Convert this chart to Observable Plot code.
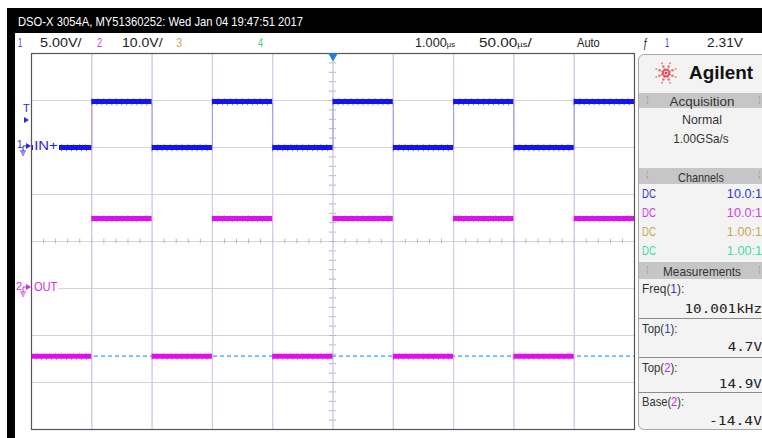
<!DOCTYPE html>
<html><head><meta charset="utf-8">
<script src="https://cdn.jsdelivr.net/npm/d3@7"></script>
<script src="https://cdn.jsdelivr.net/npm/@observablehq/plot@0.6"></script>
<style>
body{margin:0;background:#fff;}
#root{position:relative;width:762px;height:438px;overflow:hidden;background:#fff;font-family:"Liberation Sans",Arial,sans-serif;}
.t{position:absolute;white-space:nowrap;line-height:1;}
#plot{position:absolute;left:0;top:0;}
.bar{position:absolute;left:0;width:130px;background:#c6c6c6;}
</style></head>
<body>
<div id="root"><div id="plot"></div></div>
<script>
const timeEdges = [-250, -200, -150, -100, -50, 0, 50, 100, 150, 200, 250]; // µs, 50 µs/div
const inVolts   = [0, 4.9, 0, 4.9, 0, 4.9, 0, 4.9, 0, 4.9];                 // channel 1 (IN+)
const outVolts  = [-14.4, 14.9, -14.4, 14.9, -14.4, 14.9, -14.4, 14.9, -14.4, 14.9]; // channel 2 (OUT)
const ch1Offset = 2, ch1VoltsPerDiv = 5;
const ch2Offset = -1, ch2VoltsPerDiv = 10;
const base2 = -14.4;
const xGrid = [-200, -150, -100, -50, 0, 50, 100, 150, 200];
const yGrid = [-3, -2, -1, 0, 1, 2, 3];
const titleText = "DSO-X 3054A, MY51360252: Wed Jan 04 19:47:51 2017";
const headerItems = [
  ["1", 18, "#3a3ac8", 4], ["5.00V/", 40, "#222", 42], ["2", 97, "#d040d8", 5], ["10.0V/", 122, "#222", 41],
  ["3", 176, "#c8a860", 6], ["4", 258, "#40d080", 5], ["1.000<span style='font-size:8px'>µs</span>", 415, "#222", 40],
  ["50.00<span style='font-size:8px'>µs</span>/", 479, "#222", 53], ["Auto", 577, "#222", 23], ["ƒ", 643, "#222", 5],
  ["1", 665, "#3a3ac8", 4], ["2.31V", 707, "#222", 36]
];
const channelRows = [["DC", "10.0:1", "#3434d0"], ["DC", "10.0:1", "#d040e0"], ["DC", "1.00:1", "#c8a850"], ["DC", "1.00:1", "#40dca0"]];
const measurements = [["Freq", "1", "10.001kHz", "#3434d0"], ["Top", "1", "4.7V", "#3434d0"], ["Top", "2", "14.9V", "#c030e0"], ["Base", "2", "-14.4V", "#c030e0"]];

const segIn = inVolts.map((v, i) => ({x1: timeEdges[i], x2: timeEdges[i + 1], y: ch1Offset + v / ch1VoltsPerDiv}));
const segOut = outVolts.map((v, i) => ({x1: timeEdges[i], x2: timeEdges[i + 1], y: ch2Offset + v / ch2VoltsPerDiv}));
const edgesIn = timeEdges.slice(1, -1).map((t, i) => ({x: t, y1: segIn[i].y, y2: segIn[i + 1].y}));
const minorX = d3.range(-250, 251, 10);
const minorY = d3.range(-4, 4.01, 0.2);

const blue = "#1414f2", mag = "#dc10ee";
const plot = Plot.plot({
  width: 762, height: 438,
  marginLeft: 31, marginRight: 128, marginTop: 53, marginBottom: 9,
  x: {domain: [-250, 250], axis: null},
  y: {domain: [-4, 4], axis: null},
  marks: [
    Plot.ruleX(xGrid, {stroke: "#d4d4d4", strokeWidth: 1}),
    Plot.ruleY(yGrid, {stroke: "#d4d4d4", strokeWidth: 1}),
    Plot.ruleX(minorX, {y1: -0.05, y2: 0.05, stroke: "#b8b8b8"}),
    Plot.ruleY(minorY, {x1: -3, x2: 3, stroke: "#b8b8b8"}),
    Plot.ruleX(timeEdges.slice(1, -1), {stroke: "#dcc4ec", strokeWidth: 1}),
    Plot.ruleX(edgesIn, {x: "x", y1: d => d.y1 - 0.05, y2: d => d.y2 + 0.05, stroke: "#9c9cf0", strokeWidth: 1}),
    Plot.ruleY([ch2Offset + base2 / ch2VoltsPerDiv], {stroke: "#3aa0f0", strokeWidth: 1.2, strokeDasharray: "4,3"}),
    Plot.ruleY(segIn, {x1: "x1", x2: "x2", y: "y", stroke: blue, strokeWidth: 5}),
    Plot.ruleY(segIn, {x1: "x1", x2: "x2", y: "y", dy: 3, stroke: blue, strokeWidth: 1.5, strokeDasharray: "1,4", strokeOpacity: 0.6}),
    Plot.ruleY(segIn, {x1: "x1", x2: "x2", y: "y", dy: -3, stroke: "#6060f0", strokeWidth: 1, strokeDasharray: "1,5", strokeOpacity: 0.6}),
    Plot.ruleY(segOut, {x1: "x1", x2: "x2", y: "y", stroke: mag, strokeWidth: 5}),
    Plot.ruleY(segOut, {x1: "x1", x2: "x2", y: "y", dy: 3, stroke: mag, strokeWidth: 1.5, strokeDasharray: "1,4", strokeOpacity: 0.6}),
    Plot.ruleY(segOut, {x1: "x1", x2: "x2", y: "y", dy: -3, stroke: "#e060f0", strokeWidth: 1, strokeDasharray: "1,5", strokeOpacity: 0.6}),
    Plot.frame({stroke: "#555", strokeWidth: 1.2}),
    Plot.dot([0], {x: d => d, y: 4, symbol: "triangle", rotate: 180, r: 3.6, dy: 2.5, fill: "#2080e0", stroke: "none"})
  ]
});
const root = document.getElementById("root");
document.getElementById("plot").appendChild(plot);

function box(x, y, w, h, bg, extra = "") {
  const d = document.createElement("div");
  d.style.cssText = `position:absolute;left:${x}px;top:${y}px;width:${w}px;height:${h}px;background:${bg};${extra}`;
  root.appendChild(d); return d;
}
const fits = [];
function put(html, x, y, o = {}) {
  const {size = 12, color = "#222", anchor = "start", w = null, family = null, weight = "normal", bg = null, parent = root} = o;
  const d = document.createElement("div");
  d.className = "t";
  d.innerHTML = html;
  d.style.left = x + "px"; d.style.top = y + "px";
  d.style.fontSize = size + "px"; d.style.color = color; d.style.fontWeight = weight;
  if (family) d.style.fontFamily = family;
  if (bg) { d.style.background = bg; d.style.padding = "1px 1px"; }
  parent.appendChild(d);
  fits.push({d, anchor, w});
  return d;
}
function fitAll() {
  for (const {d, anchor, w} of fits) {
    const tx = anchor === "end" ? "-100%" : anchor === "middle" ? "-50%" : "0";
    const s = w ? w / d.offsetWidth : 1;
    d.style.transformOrigin = anchor === "end" ? "right center" : anchor === "middle" ? "center center" : "left center";
    d.style.transform = `translate(${tx},-50%) scaleX(${s})`;
  }
}

// black frame pieces
box(7, 8, 755, 25, "#000");
box(7, 8, 8, 430, "#000");
put(titleText, 18, 21, {size: 13, color: "#fff", w: 285});
for (const [txt, x, c, w] of headerItems) put(txt, x, 42, {size: 13, color: c, w});

// left markers
put("IN+", 33, 146, {size: 12, color: "#2222e0", bg: "#fff", w: 26});
put("OUT", 33, 287, {size: 12, color: "#d030e0", bg: "#fff", w: 25});
put("T", 23, 108, {size: 11, color: "#2a2ae0"});
put("1", 17, 145, {size: 10, color: "#2a2ae0"});
put("2", 16, 286, {size: 11, color: "#d030e0"});
const ns = "http://www.w3.org/2000/svg";
const mk = document.createElementNS(ns, "svg");
mk.setAttribute("width", 31); mk.setAttribute("height", 438);
mk.style.cssText = "position:absolute;left:0;top:0;";
mk.innerHTML = `
<path d="M24,117 L29,120 L24,123 Z" fill="#2a2ae0"/>
<path d="M26,143 L31,146 L26,149 Z" fill="#2a2ae0"/>
<path d="M23,146 V151 M20,151 H26 M21,153 H25 M22,155 H24" stroke="#2a2ae0" stroke-width="1" fill="none"/>
<path d="M23,146 H26" stroke="#2a2ae0"/>
<path d="M26,284 L31,287 L26,290 Z" fill="#d030e0"/>
<path d="M23,287 V292 M20,292 H26 M21,294 H25 M22,296 H24" stroke="#d030e0" stroke-width="1" fill="none"/>
<path d="M23,287 H26" stroke="#d030e0"/>`;
root.appendChild(mk);

// right info panel
const panel = box(638, 54, 130, 376, "#f3f3f3", "border:1px solid #a8a8a8;border-radius:6px;box-sizing:border-box;overflow:hidden;");
const P = (html, x, y, o = {}) => put(html, x - 638, y - 54, {...o, parent: panel});
const bars = [[92, 15, "Acquisition", 701, 65], [167, 16, "Channels", 700, 46], [261, 17, "Measurements", 701, 78]];
for (const [y, h, label, cx, w] of bars) {
  const b = document.createElement("div");
  b.className = "bar"; b.style.top = (y - 54) + "px"; b.style.height = h + "px";
  panel.appendChild(b);
  P(label, cx, y + h / 2 + 0.5, {size: 13, color: "#333", anchor: "middle", w});
  P("⁞", 645, y + h / 2, {size: 10, color: "#999"});
  P("⁞", 757, y + h / 2, {size: 10, color: "#999"});
}
// rows backgrounds
box(0, 183 - 54, 130, 78, "#fafafa").remove();
// logo
const logo = document.createElementNS(ns, "svg");
logo.setAttribute("width", 26); logo.setAttribute("height", 26);
logo.style.cssText = "position:absolute;left:" + (665 - 13 - 638) + "px;top:" + (72 - 13 - 54) + "px;";
let dots = "";
for (let k = 0; k < 8; k++) {
  const a = k * Math.PI / 4 + Math.PI / 8;
  [[3.5, 1.5], [7, 1.3], [10.5, 1.0]].forEach(([r, s]) => {
    dots += `<circle cx="${13 + r * Math.cos(a)}" cy="${13 + r * Math.sin(a)}" r="${s}" fill="#e04040" opacity="${0.95 - r / 30}"/>`;
  });
}
dots += `<circle cx="13" cy="13" r="1.3" fill="#e04040"/>`;
logo.innerHTML = dots;
panel.appendChild(logo);
P("Agilent", 688, 72, {size: 18, color: "#111", weight: "bold", w: 64});
P("Normal", 701, 118, {size: 13, color: "#333", anchor: "middle", w: 40});
P("1.00GSa/s", 700, 137, {size: 13, color: "#333", anchor: "middle", w: 55});
channelRows.forEach(([a, b, c], i) => {
  const y = 192 + i * 19;
  P(a, 641, y, {size: 13, color: c, w: 14});
  P(b, 761, y, {size: 13, color: c, anchor: "end", w: 35});
});
const mono = "'DejaVu Sans Mono','Liberation Mono',monospace";
const mLabelY = [287, 327, 366, 400], mValY = [307, 345, 382, 419], mW = [[42, 77], [35, 34], [35, 43], [42, 53]];
measurements.forEach(([lab, ch, val, c], i) => {
  P(`${lab}(<span style="color:${c}">${ch}</span>):`, 641, mLabelY[i], {size: 13, color: "#333", w: mW[i][0]});
  P(val, 761, mValY[i], {size: 13, color: "#222", anchor: "end", family: mono, w: mW[i][1]});
});
[317, 356, 391].forEach(y => { const l = document.createElement("div"); l.style.cssText = `position:absolute;left:0;top:${y - 54}px;width:130px;height:1px;background:#8a8a8a;`; panel.appendChild(l); });

fitAll();
</script>
</body></html>
